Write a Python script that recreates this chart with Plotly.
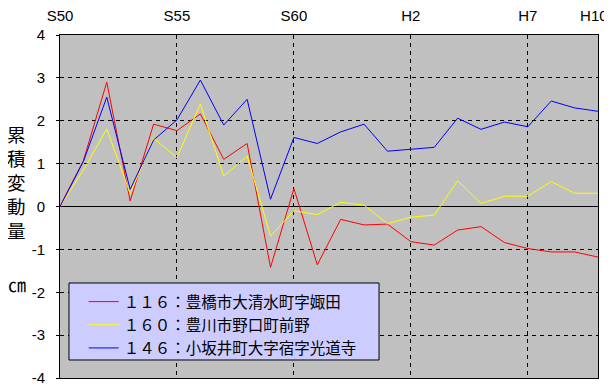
import plotly.graph_objects as go

years = list(range(1975, 1999))

series_names = [
    "１１６：豊橋市大清水町字娵田",
    "１６０：豊川市野口町前野",
    "１４６：小坂井町大字宿字光道寺",
]
series_colors = ["#FF0000", "#FFFF00", "#0000FF"]

red_116 = [0.0, 1.07, 2.9, 0.13, 1.92, 1.77, 2.16, 1.1, 1.47, -1.42, 0.42, -1.36,
           -0.3, -0.43, -0.41, -0.82, -0.9, -0.55, -0.47, -0.84, -0.98, -1.06, -1.06, -1.18]
yellow_160 = [0.0, 0.85, 1.81, 0.3, 1.59, 1.14, 2.39, 0.71, 1.18, -0.69, -0.1, -0.19,
              0.1, 0.03, -0.4, -0.25, -0.2, 0.6, 0.07, 0.24, 0.24, 0.58, 0.31, 0.31]
blue_146 = [0.0, 1.05, 2.55, 0.4, 1.55, 2.02, 2.95, 1.9, 2.5, 0.17, 1.61, 1.47,
            1.74, 1.92, 1.29, 1.34, 1.38, 2.06, 1.8, 1.97, 1.86, 2.46, 2.3, 2.22]

x_tickvals = [1975, 1980, 1985, 1990, 1995, 1998]
x_ticktext = ["S50", "S55", "S60", "H2", "H7", "H10\u00a0\u00a0"]
y_tickvals = [-4, -3, -2, -1, 0, 1, 2, 3, 4]
y_ticktext = ["-4", "-3", "-2", "-1", "0", "1", "2", "3", "4"]

tick_font = dict(family="Liberation Sans Narrow, Arial Narrow, Liberation Sans, sans-serif",
                 size=15, color="black")
cjk = "Noto Sans CJK JP"

fig = go.Figure()
for name, vals, color in zip(series_names, [red_116, yellow_160, blue_146], series_colors):
    fig.add_trace(go.Scatter(x=years, y=vals, mode="lines", name=name,
                             line=dict(color=color, width=1)))

fig.update_layout(
    width=612, height=390,
    margin=dict(l=52, r=22, t=27, b=20, autoexpand=False),
    paper_bgcolor="white",
    plot_bgcolor="#C0C0C0",
    showlegend=True,
    legend=dict(
        x=0.044, y=0.271, xanchor="left", yanchor="top",
        bgcolor="rgba(0,0,0,0)", borderwidth=0,
        font=dict(family=cjk, size=15.5, color="black"),
        itemwidth=30,
    ),
    shapes=[
        dict(type="rect", xref="paper", yref="paper", layer="above",
             x0=0.0167, x1=0.593, y0=0.0525, y1=0.277,
             fillcolor="#CCCCFF", line=dict(color="black", width=1)),
    ],
    xaxis=dict(
        range=[1975, 1998], side="top", automargin=False,
        tickmode="array", tickvals=x_tickvals, ticktext=x_ticktext,
        tickfont=tick_font, ticks="", ticklabelstandoff=7,
        showgrid=True, gridcolor="black", gridwidth=1, griddash="4px,4px",
        showline=True, linecolor="black", linewidth=1, mirror=True,
        zeroline=False,
    ),
    yaxis=dict(
        range=[-4, 4], automargin=False,
        tickmode="array", tickvals=y_tickvals, ticktext=y_ticktext,
        tickfont=tick_font, ticks="outside", ticklen=3, tickcolor="black",
        ticklabelstandoff=8,
        showgrid=True, gridcolor="black", gridwidth=1, griddash="4px,4px",
        zeroline=True, zerolinecolor="black", zerolinewidth=1,
        showline=True, linecolor="black", linewidth=1, mirror=True,
    ),
    annotations=[
        dict(text="累<br>積<br>変<br>動<br>量", xref="paper", yref="paper",
             x=-0.08, y=0.57, xanchor="center", yanchor="middle",
             showarrow=False, font=dict(family=cjk, size=18.5, color="black")),
        dict(text="㎝", xref="paper", yref="paper",
             x=-0.08, y=0.274, xanchor="center", yanchor="middle",
             showarrow=False, font=dict(family=cjk, size=18, color="black")),
    ],
)

fig.write_html("out.html")
